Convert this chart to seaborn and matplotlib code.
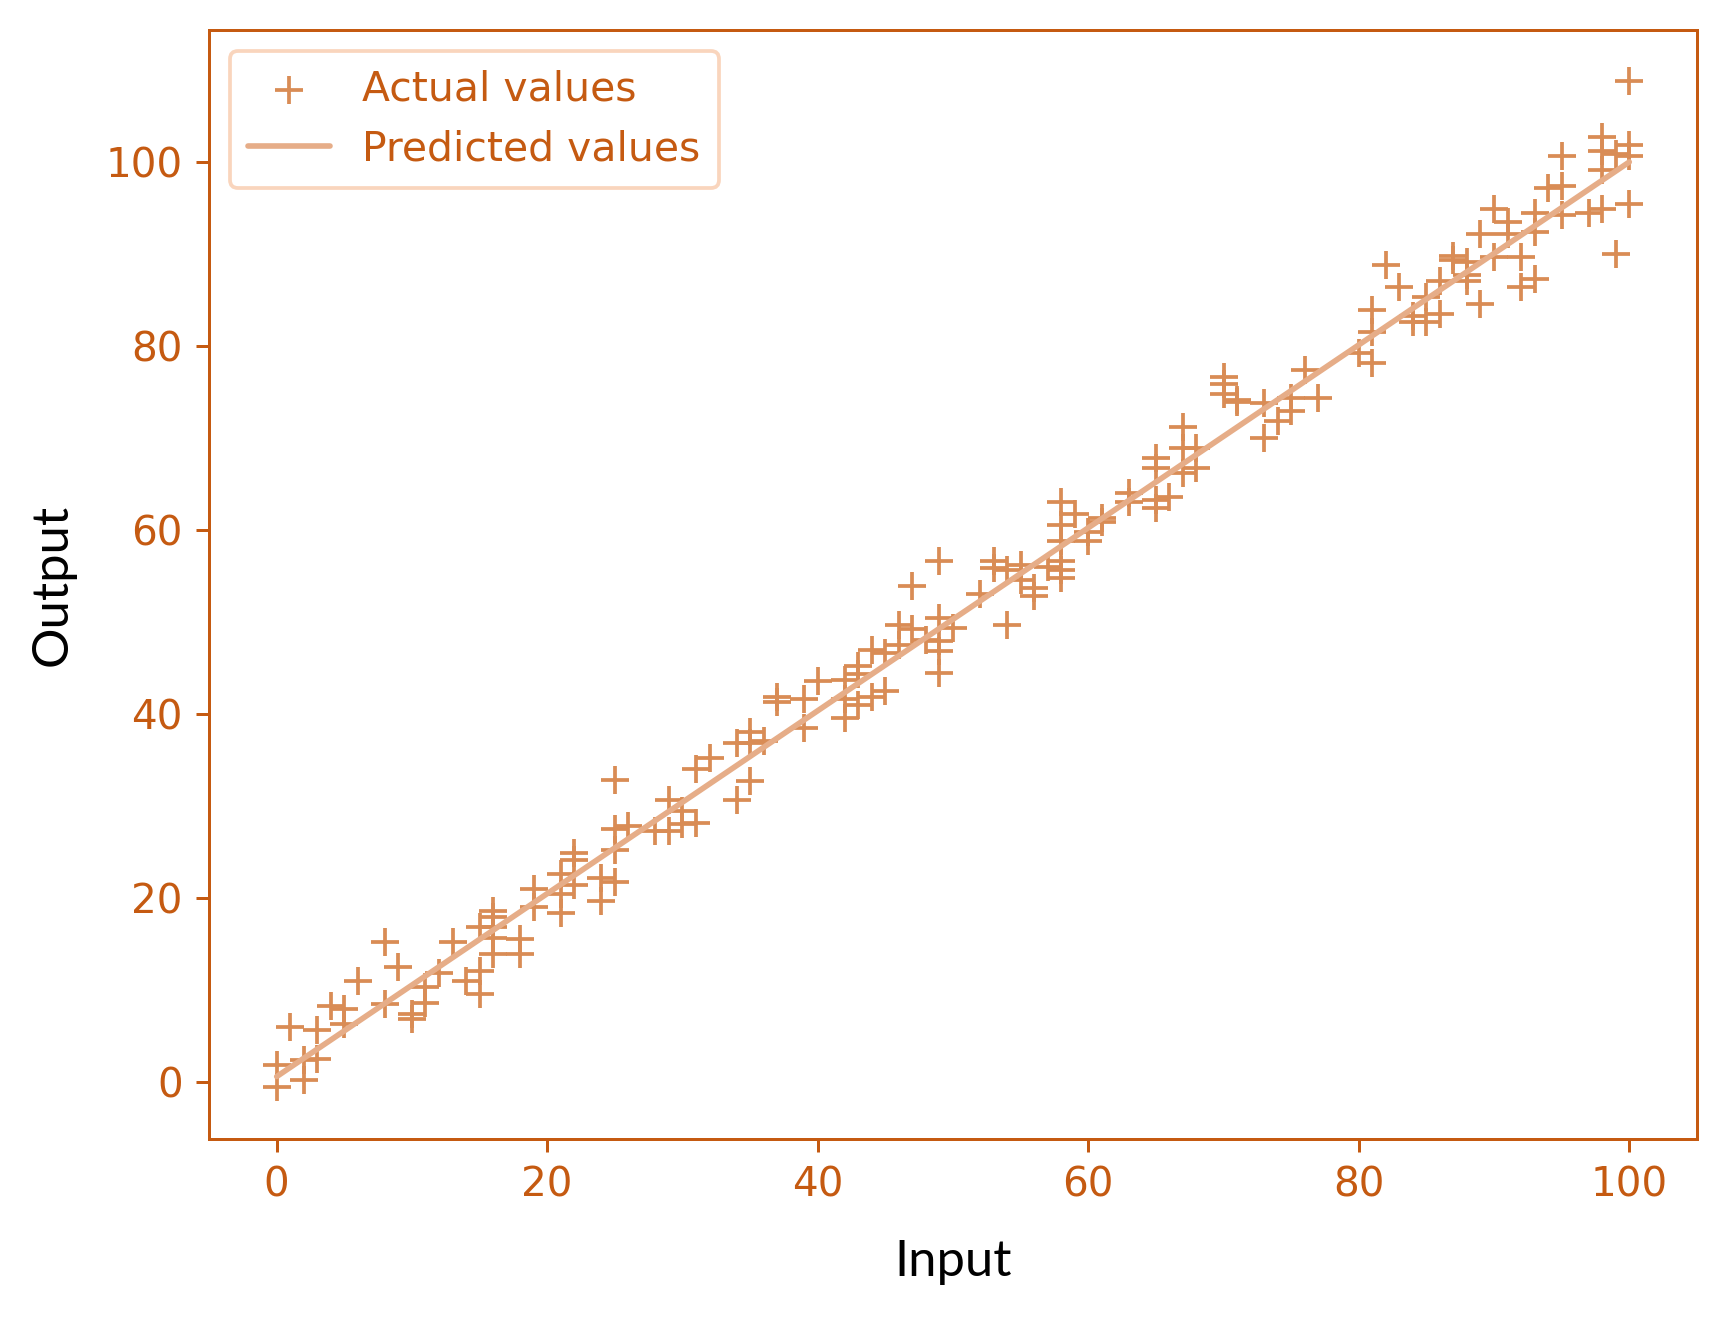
import numpy as np
import pandas as pd
import seaborn as sns
import matplotlib.pyplot as plt

# Actual values (input is integer, output noisy)
inputs = [0, 0, 1, 2, 2, 3, 3, 4, 5, 5, 6, 8, 8, 9, 10, 10, 11, 11, 12, 13, 14,
          15, 15, 15, 16, 16, 16, 16, 16, 18, 18, 19, 19, 21, 21, 21, 22, 22, 22,
          24, 24, 25, 25, 25, 25, 26, 28, 29, 29, 30, 30, 31, 31, 32, 34, 34,
          35, 35, 35, 36, 37, 37, 39, 39, 40, 42, 42, 42, 43, 43, 43, 44, 44,
          45, 45, 46, 46, 47, 47, 48, 49, 49, 49, 49, 49, 50, 52, 53, 53, 54,
          54, 55, 55, 56, 56, 57, 58, 58, 58, 58, 58, 58, 59, 60, 60, 61, 61,
          63, 63, 65, 65, 65, 65, 66, 67, 67, 67, 68, 68, 70, 70, 70, 71, 71,
          73, 73, 74, 75, 75, 76, 77, 80, 81, 81, 81, 82, 83, 84, 84, 85, 85,
          86, 86, 87, 87, 88, 88, 88, 89, 89, 90, 90, 91, 91, 92, 92, 93, 93,
          93, 94, 95, 95, 95, 97, 98, 98, 98, 98, 99, 99, 100, 100, 100, 100]
outputs = [1.8, -0.5, 6.0, 2.4, 0.2, 5.7, 2.5, 8.3, 7.9, 6.3, 11.0, 15.2, 8.5,
           12.5, 7.4, 6.8, 8.6, 10.3, 11.9, 15.2, 11.0, 12.1, 9.6, 16.8, 18.6,
           17.9, 16.8, 15.7, 13.9, 15.5, 13.9, 21.0, 19.0, 22.6, 20.4, 18.4,
           24.9, 24.1, 21.4, 22.2, 19.7, 32.8, 27.5, 25.2, 21.7, 27.8, 27.3,
           30.7, 27.3, 29.5, 28.0, 28.2, 34.0, 35.2, 30.7, 36.9, 32.7, 38.1,
           36.9, 37.1, 41.9, 41.3, 41.6, 38.5, 43.6, 43.7, 41.6, 39.6, 45.2,
           44.3, 41.0, 47.0, 41.9, 46.6, 42.5, 49.7, 47.5, 49.2, 53.9, 48.1,
           47.9, 46.8, 44.5, 56.6, 50.4, 49.3, 53.0, 56.6, 55.9, 49.7, 55.7,
           56.2, 54.6, 53.7, 52.8, 56.0, 63.1, 60.6, 58.8, 56.6, 55.7, 54.8,
           61.7, 59.8, 58.8, 60.9, 61.3, 64.0, 63.0, 67.8, 66.7, 63.3, 62.4,
           63.6, 71.2, 68.9, 66.2, 68.9, 66.7, 76.6, 74.8, 75.9, 74.1, 73.9,
           73.8, 70.0, 71.9, 74.3, 72.9, 77.4, 74.3, 79.2, 83.9, 81.5, 78.1,
           88.8, 86.4, 83.3, 82.6, 82.6, 85.3, 87.1, 83.5, 89.8, 89.3, 89.1,
           87.1, 87.7, 84.6, 92.2, 94.9, 89.7, 93.5, 92.2, 89.7, 86.4, 94.5,
           92.4, 87.3, 97.2, 100.6, 97.4, 94.2, 94.5, 94.9, 102.7, 101.2, 99.1,
           100.9, 90.0, 108.8, 101.8, 100.7, 95.4]

# Fitted line end points
pred_inputs = [0, 100]
pred_outputs = [0.6, 100.0]

df = pd.DataFrame({"Input": inputs, "Output": outputs})
pred = pd.DataFrame({"Input": pred_inputs, "Output": pred_outputs})

axis_color = "#C55A11"

sns.set_style("white")
plt.rcParams["font.family"] = ["DejaVu Sans"]

fig, ax = plt.subplots(figsize=(6.4, 4.9), dpi=270)
fig.subplots_adjust(left=0.121, right=0.982, top=0.977, bottom=0.139)

sns.scatterplot(data=df, x="Input", y="Output", marker="+", s=52,
                color="#D98C55", linewidth=1.0, label="Actual values", ax=ax)
sns.lineplot(data=pred, x="Input", y="Output", color="#E6AD88",
             linewidth=1.5, label="Predicted values", ax=ax)

ax.set_xlim(-5, 105)
ax.set_ylim(-6.2, 114.3)
ax.set_xticks([0, 20, 40, 60, 80, 100])
ax.set_yticks([0, 20, 40, 60, 80, 100])

for side in ax.spines.values():
    side.set_color(axis_color)
    side.set_linewidth(0.8)
ax.tick_params(colors=axis_color, labelsize=10.8, length=3.5, width=0.8,
               bottom=True, left=True)

ax.set_xlabel("Input", fontsize=13.5, family="Lato", color="black", labelpad=9)
ax.set_ylabel("Output", fontsize=13.5, family="Lato", color="black", labelpad=8)

leg = ax.legend(loc="upper left", fontsize=10.9, frameon=True,
                borderpad=0.45, labelspacing=0.5)
leg.get_frame().set_edgecolor("#F8CBAD")
for t in leg.get_texts():
    t.set_color(axis_color)

plt.savefig("out.png", dpi=270)
